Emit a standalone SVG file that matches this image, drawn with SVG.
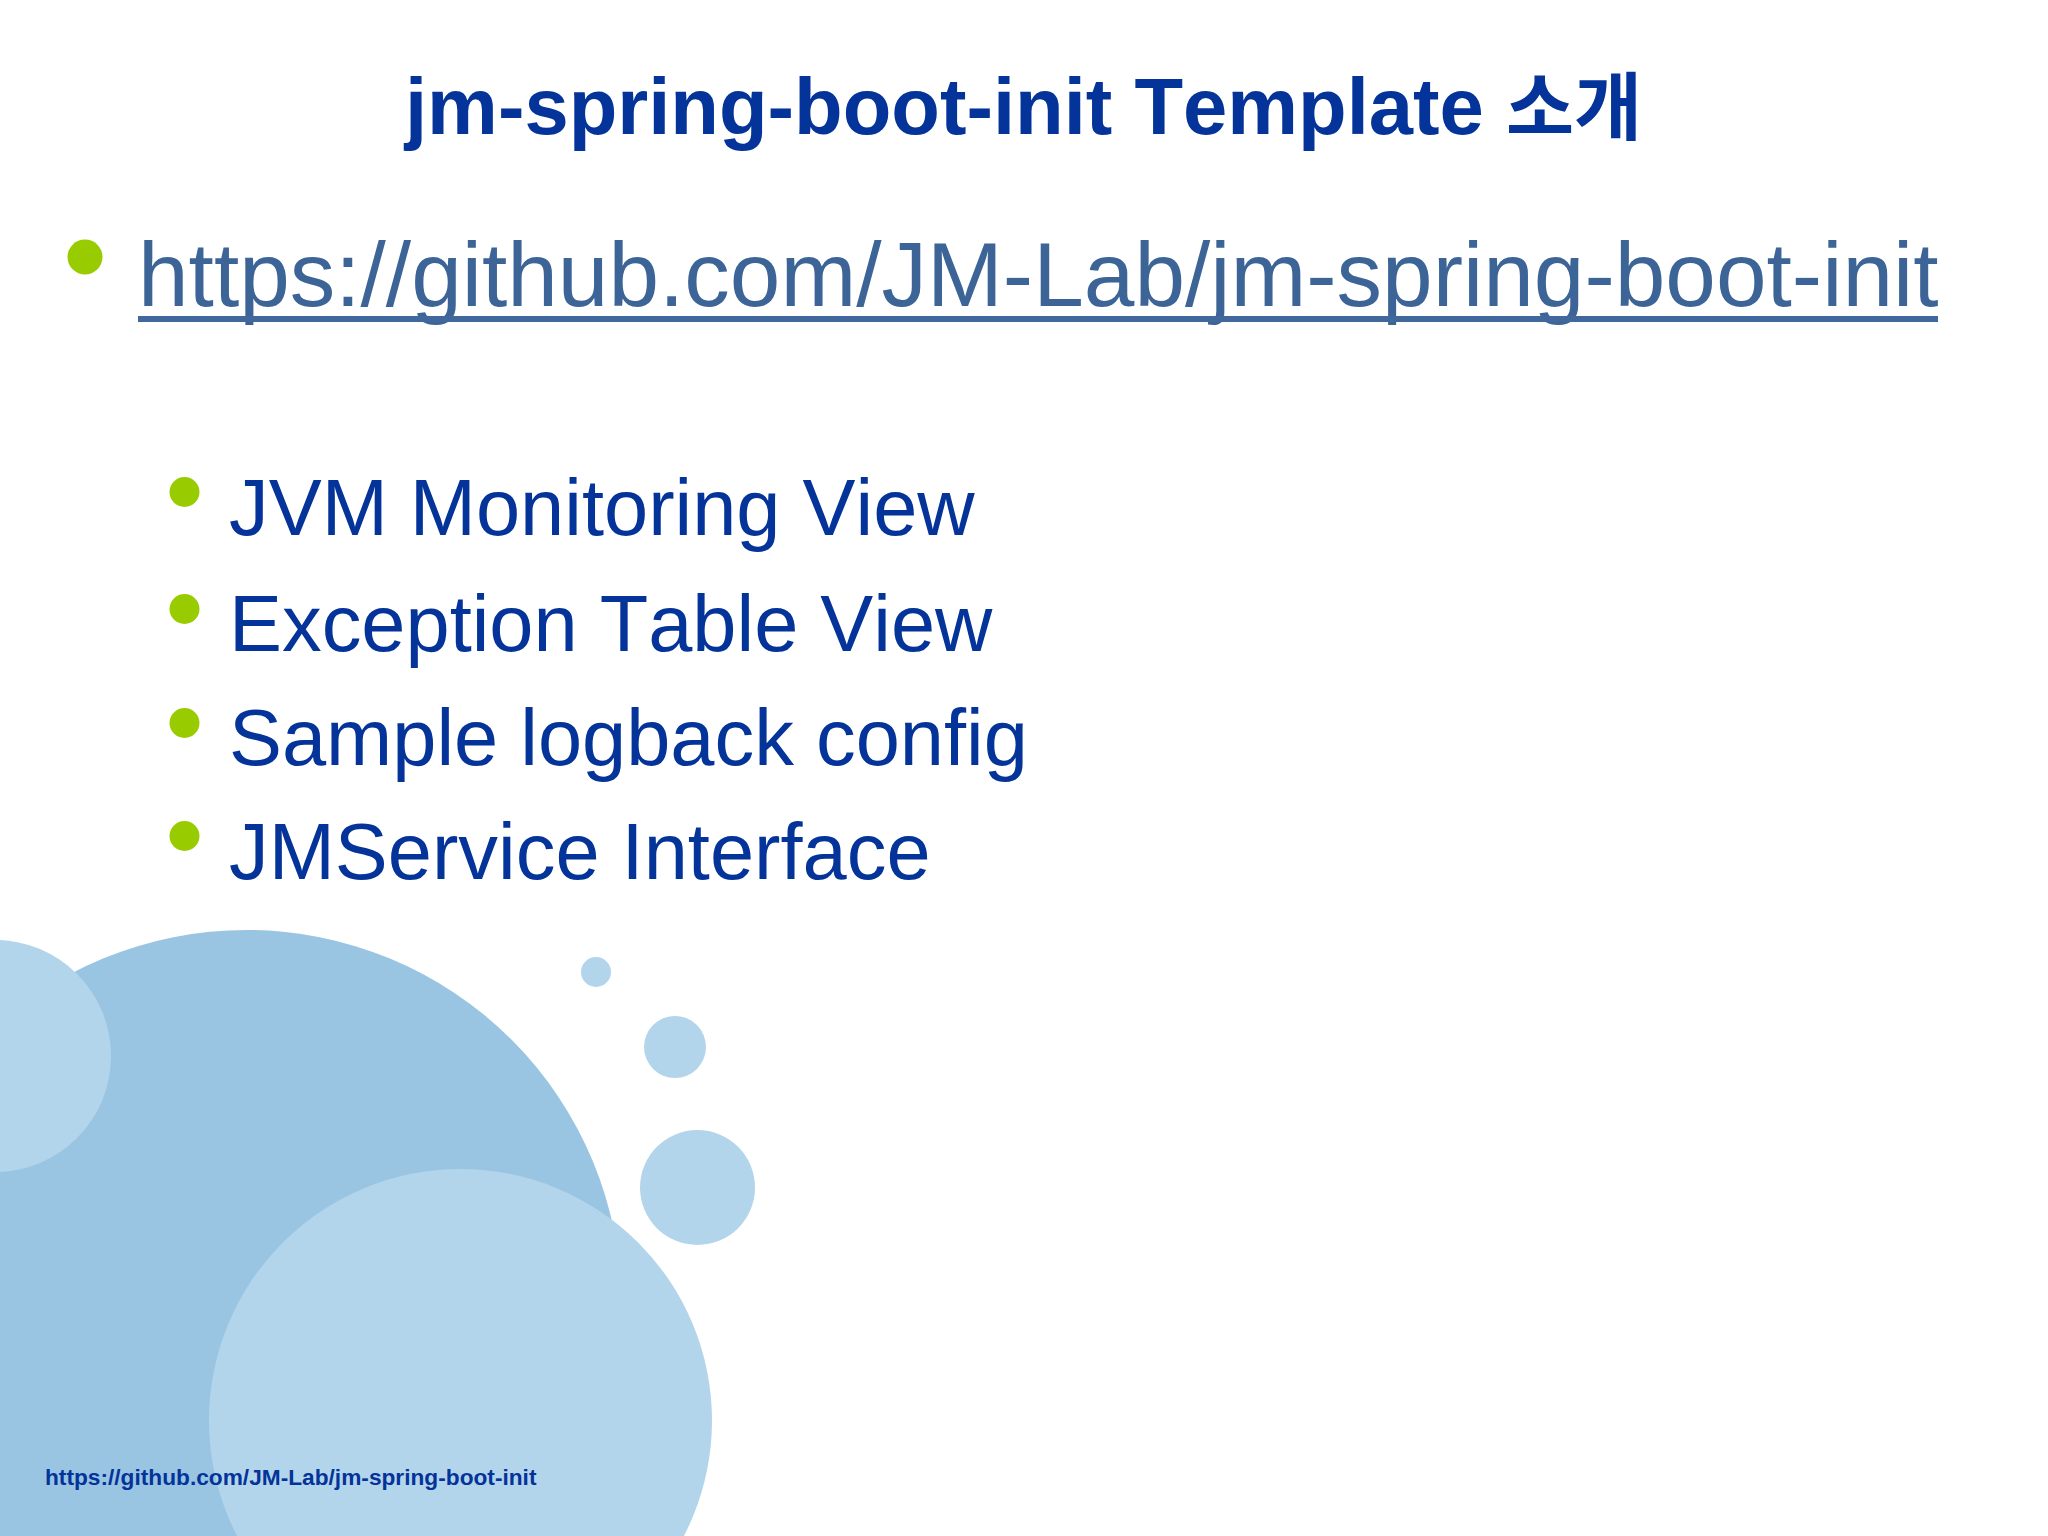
<svg xmlns="http://www.w3.org/2000/svg" width="2048" height="1536" viewBox="0 0 2048 1536">
<style>
text{font-family:"Liberation Sans","Noto Sans CJK KR",sans-serif;fill:#043399;font-kerning:none}
.b{font-weight:bold}
.sub{font-size:79.400px}
.dot{fill:#99cc00}
.light{fill:#b3d5eb}
</style>
<rect width="2048" height="1536" fill="#ffffff"/>
<g id="background">
<circle cx="246.500" cy="1305" r="375" fill="#99c5e3"/>
<circle class="light" cx="-5" cy="1056" r="116"/>
<circle class="light" cx="460.500" cy="1420.500" r="251.500"/>
<circle class="light" cx="596" cy="972" r="15"/>
<circle class="light" cx="675" cy="1047" r="31"/>
<circle class="light" cx="697.500" cy="1187.500" r="57.500"/>
</g>
<g id="title"><text class="b" x="405" y="134" font-size="79.600">jm-spring-boot-init Template <tspan font-size="74">소개</tspan></text></g>
<g id="link">
<circle class="dot" cx="85" cy="257" r="17.500"/>
<text x="138" y="306" font-size="91" style="fill:#3c6497">https://github.com/JM-Lab/jm-spring-boot-init</text>
<rect x="138" y="316" width="1800" height="6" fill="#41689c"/>
</g>
<g id="item-1"><circle class="dot" cx="184.500" cy="492" r="15"/><text class="sub" x="229" y="535">JVM Monitoring View</text></g>
<g id="item-2"><circle class="dot" cx="184.500" cy="609" r="15"/><text class="sub" x="229" y="651">Exception Table View</text></g>
<g id="item-3"><circle class="dot" cx="184.500" cy="723" r="15"/><text class="sub" x="229" y="765">Sample logback config</text></g>
<g id="item-4"><circle class="dot" cx="184.500" cy="836" r="15"/><text class="sub" x="229" y="879">JMService Interface</text></g>
<g id="footer"><text class="b" x="45" y="1485" font-size="22.700">https://github.com/JM-Lab/jm-spring-boot-init</text></g>
</svg>
